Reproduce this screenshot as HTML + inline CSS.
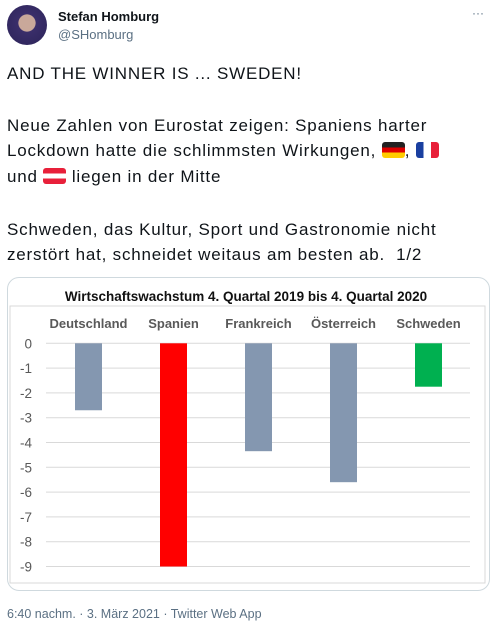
<!DOCTYPE html>
<html><head><meta charset="utf-8">
<style>
body{margin:0;width:494px;height:626px;background:#fff;font-family:"Liberation Sans",sans-serif;position:relative;overflow:hidden}
.abs{position:absolute}
.t{font-size:17px;letter-spacing:0.8px;color:#0f1419;left:7px;white-space:nowrap}
</style></head><body>
<div class="abs" style="left:7px;top:5px;width:40px;height:40px;border-radius:50%;background:radial-gradient(circle at 50% 45%,#c9a89a 0 28%,#3a2e6a 30%,#2b2358 100%)"></div>
<div class="abs" style="left:58px;top:9px;font-size:13px;font-weight:bold;color:#0f1419">Stefan Homburg</div>
<div class="abs" style="left:58px;top:27px;font-size:13px;color:#5b7083">@SHomburg</div>
<div class="abs" style="left:472px;top:6px;font-size:12px;color:#5b7083">···</div>
<div class="abs t" style="top:64px">AND THE WINNER IS ... SWEDEN!</div>
<div class="abs t" style="top:116px">Neue Zahlen von Eurostat zeigen: Spaniens harter</div>
<div class="abs t" style="top:141px">Lockdown hatte die schlimmsten Wirkungen, <span style="display:inline-block;width:23px;height:16px;vertical-align:-2px;border-radius:3px;background:linear-gradient(#222 33%,#d00 33% 66%,#fc0 66%)"></span>, <span style="display:inline-block;width:23px;height:16px;vertical-align:-2px;border-radius:3px;background:linear-gradient(90deg,#1a3fa0 33%,#fff 33% 66%,#e8203a 66%)"></span></div>
<div class="abs t" style="top:167px">und <span style="display:inline-block;width:23px;height:16px;vertical-align:-2px;border-radius:3px;background:linear-gradient(#e8203a 33%,#fff 33% 66%,#e8203a 66%)"></span> liegen in der Mitte</div>
<div class="abs t" style="top:220px">Schweden, das Kultur, Sport und Gastronomie nicht</div>
<div class="abs t" style="top:245px">zerstört hat, schneidet weitaus am besten ab.&nbsp; 1/2</div>
<div class="abs" style="left:7px;top:277px;width:483px;height:314px;border:1px solid #cfd9de;border-radius:12px;box-sizing:border-box"></div>
<svg class="abs" style="left:0;top:0" width="494" height="626" id="chart">
<rect x="10" y="306" width="475" height="277" fill="none" stroke="#d9d9d9"/>
<text x="246" y="301" text-anchor="middle" font-size="13.5" font-weight="bold" fill="#111" font-family="Liberation Sans">Wirtschaftswachstum 4. Quartal 2019 bis 4. Quartal 2020</text>
</svg>
<div class="abs" style="left:7px;top:607px;font-size:12.5px;color:#5b7083">6:40 nachm. · 3. März 2021 · Twitter Web App</div>
<script>
const categories=["Deutschland","Spanien","Frankreich","Österreich","Schweden"];
const values=[-2.7,-9.0,-4.35,-5.6,-1.75];
const barColors=["#8497b0","#ff0000","#8497b0","#8497b0","#00b050"];
const yTicks=[0,-1,-2,-3,-4,-5,-6,-7,-8,-9];
const svg=document.getElementById('chart');
const NS="http://www.w3.org/2000/svg";
const y=v=>343.3-v*24.8;
const x=i=>88.5+i*85;
function mk(t,a){const e=document.createElementNS(NS,t);for(const k in a)e.setAttribute(k,a[k]);svg.appendChild(e);return e;}
yTicks.forEach(v=>{
 const l=mk('line',{x1:46,x2:470,y1:y(v),y2:y(v),stroke:'#d9d9d9','stroke-width':1});
 
 
 const t=mk('text',{x:32,y:y(v)+5,'text-anchor':'end','font-size':13.5,fill:'#595959','font-family':'Liberation Sans'});
 t.textContent=v;
 
 
});
categories.forEach((c,i)=>{
 const t=mk('text',{x:x(i),y:328,'text-anchor':'middle','font-size':13,'font-weight':'bold',fill:'#595959','font-family':'Liberation Sans'});
 t.textContent=c;
 
 
 const v=values[i];
 const r=mk('rect',{x:x(i)-13.5,y:Math.min(y(0),y(v)),width:27,height:Math.abs(y(v)-y(0)),fill:barColors[i]});
 
 
});
</script>
</body></html>
